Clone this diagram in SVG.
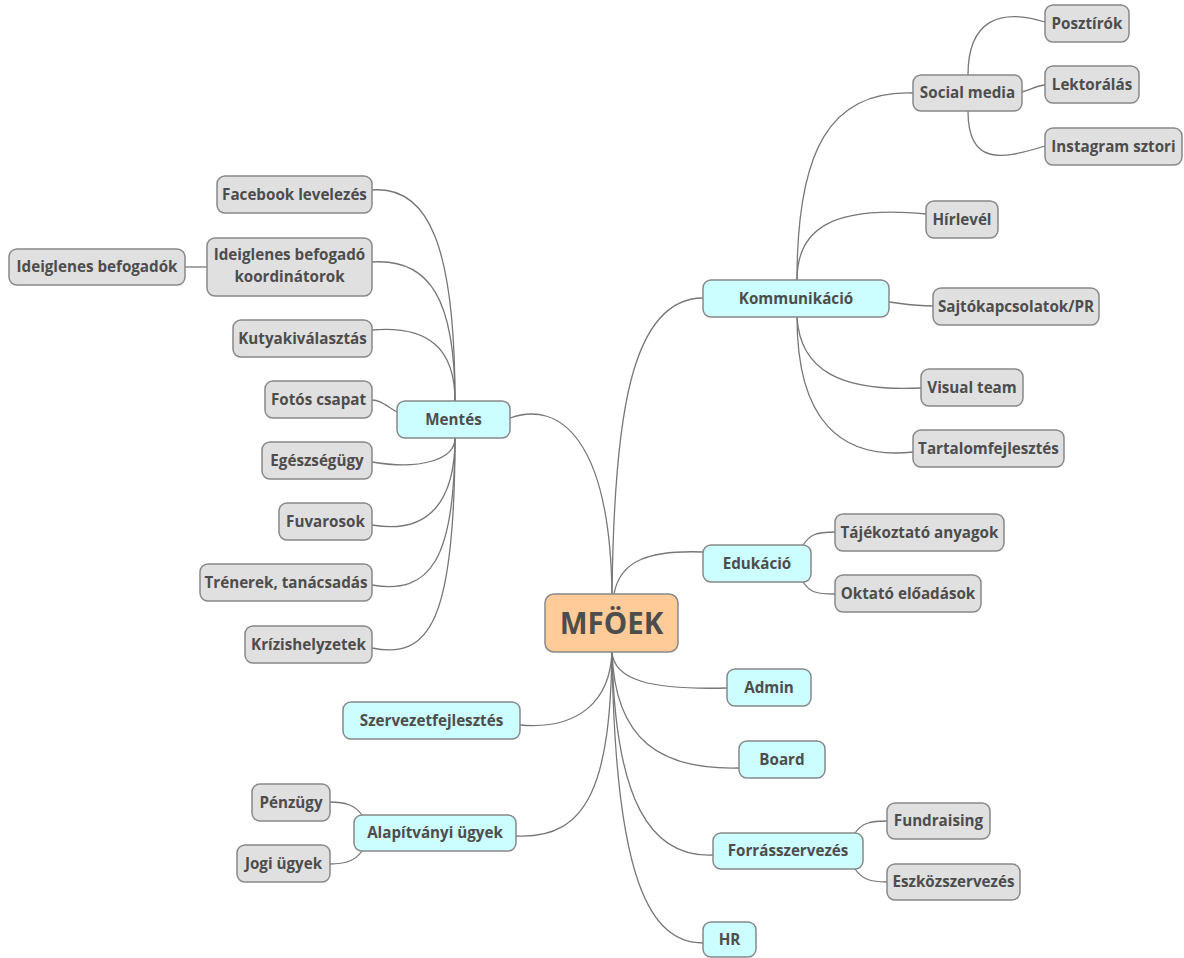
<svg xmlns="http://www.w3.org/2000/svg" width="1184" height="958" viewBox="0 0 1184 958">
<style>
.c{fill:none;stroke:#777;stroke-width:1.3}
.n rect{stroke:#888;stroke-width:1.5}
.l1 rect{fill:#ccfdff}
.l2 rect{fill:#e0e0e0}
.root rect{fill:#ffcc99}
text{font-family:"Open Sans","Noto Sans","DejaVu Sans",sans-serif;font-weight:bold;font-size:15.2px;fill:#4d4d4d;text-anchor:middle}
.root text{font-size:29.5px}
</style>
<rect width="1184" height="958" fill="#fff"/>
<g id="connectors">
<path class="c" d="M612,594 C614,420 630,298 703,298"/>
<path class="c" d="M510,418 C560,400 610,440 612,594"/>
<path class="c" d="M614,594 C620,560 650,550 703,552"/>
<path class="c" d="M612,652 C614,680 650,690 727,688"/>
<path class="c" d="M612,652 C615,740 660,770 739,768"/>
<path class="c" d="M612,652 C615,800 650,858 713,855"/>
<path class="c" d="M612,652 C615,880 650,943 703,943"/>
<path class="c" d="M612,652 C610,700 580,730 520,725"/>
<path class="c" d="M612,652 C610,780 590,840 516,836"/>
<path class="c" d="M797,280 C797,150 830,90 913,93"/>
<path class="c" d="M797,280 C797,230 830,205 926,214"/>
<path class="c" d="M889,302 C905,304 915,306 933,306"/>
<path class="c" d="M797,317 C800,370 840,392 921,388"/>
<path class="c" d="M797,317 C797,420 840,460 913,452"/>
<path class="c" d="M968,75 C968,20 1000,8 1045,22"/>
<path class="c" d="M1022,92 C1030,90 1035,86 1045,85"/>
<path class="c" d="M968,111 C968,165 1000,160 1045,146"/>
<path class="c" d="M455,401 C455,250 430,185 372,190"/>
<path class="c" d="M455,401 C455,300 430,258 372,262"/>
<path class="c" d="M455,401 C455,350 430,325 372,330"/>
<path class="c" d="M397,412 C385,405 380,400 372,400"/>
<path class="c" d="M455,438 C455,460 420,470 372,462"/>
<path class="c" d="M455,438 C455,500 430,535 372,525"/>
<path class="c" d="M455,438 C455,560 430,595 372,585"/>
<path class="c" d="M455,438 C455,620 430,660 372,648"/>
<path class="c" d="M185,267 L207,267"/>
<path class="c" d="M803,545 C810,535 815,532 835,532"/>
<path class="c" d="M803,582 C810,592 815,594 835,594"/>
<path class="c" d="M855,833 C862,823 870,821 887,821"/>
<path class="c" d="M855,869 C862,879 870,882 887,882"/>
<path class="c" d="M362,815 C355,805 345,802 330,802"/>
<path class="c" d="M362,851 C355,861 345,864 330,864"/>
</g>
<g id="mfoek" class="n root"><rect x="545" y="594" width="133" height="58" rx="9"/><text x="611.5" y="633.5">MFÖEK</text></g>
<g id="kommunikacio" class="n l1"><rect x="703" y="280" width="186" height="37" rx="8"/><text x="796" y="303.5">Kommunikáció</text></g>
<g id="mentes" class="n l1"><rect x="397" y="401" width="113" height="37" rx="8"/><text x="453.5" y="424.5">Mentés</text></g>
<g id="edukacio" class="n l1"><rect x="703" y="545" width="108" height="37" rx="8"/><text x="757" y="568.5">Edukáció</text></g>
<g id="admin" class="n l1"><rect x="727" y="669" width="84" height="37" rx="8"/><text x="769" y="692.5">Admin</text></g>
<g id="board" class="n l1"><rect x="739" y="741" width="86" height="37" rx="8"/><text x="782" y="764.5">Board</text></g>
<g id="forrasszervezes" class="n l1"><rect x="713" y="833" width="150" height="36" rx="8"/><text x="788" y="856">Forrásszervezés</text></g>
<g id="hr" class="n l1"><rect x="703" y="922" width="53" height="35" rx="8"/><text x="729.5" y="944.5">HR</text></g>
<g id="szervezetfejlesztes" class="n l1"><rect x="343" y="702" width="177" height="37" rx="8"/><text x="431.5" y="725.5">Szervezetfejlesztés</text></g>
<g id="alapitvanyi" class="n l1"><rect x="354" y="815" width="162" height="36" rx="8"/><text x="435" y="838">Alapítványi ügyek</text></g>
<g id="socialmedia" class="n l2"><rect x="913" y="75" width="109" height="36" rx="8"/><text x="967.5" y="98">Social media</text></g>
<g id="posztirok" class="n l2"><rect x="1045" y="5" width="84" height="37" rx="8"/><text x="1087" y="28.5">Posztírók</text></g>
<g id="lektoralas" class="n l2"><rect x="1045" y="66" width="94" height="37" rx="8"/><text x="1092" y="89.5">Lektorálás</text></g>
<g id="instagram" class="n l2"><rect x="1045" y="128" width="137" height="37" rx="8"/><text x="1113.5" y="151.5">Instagram sztori</text></g>
<g id="hirlevel" class="n l2"><rect x="926" y="201" width="72" height="37" rx="8"/><text x="962" y="224.5">Hírlevél</text></g>
<g id="sajto" class="n l2"><rect x="933" y="288" width="166" height="37" rx="8"/><text x="1016" y="311.5">Sajtókapcsolatok/PR</text></g>
<g id="visualteam" class="n l2"><rect x="921" y="369" width="102" height="37" rx="8"/><text x="972" y="392.5">Visual team</text></g>
<g id="tartalom" class="n l2"><rect x="913" y="430" width="151" height="37" rx="8"/><text x="988.5" y="453.5">Tartalomfejlesztés</text></g>
<g id="tajekoztato" class="n l2"><rect x="835" y="514" width="169" height="37" rx="8"/><text x="919.5" y="537.5">Tájékoztató anyagok</text></g>
<g id="oktato" class="n l2"><rect x="835" y="575" width="146" height="37" rx="8"/><text x="908" y="598.5">Oktató előadások</text></g>
<g id="fundraising" class="n l2"><rect x="887" y="803" width="103" height="36" rx="8"/><text x="938.5" y="826">Fundraising</text></g>
<g id="eszkoz" class="n l2"><rect x="887" y="864" width="133" height="36" rx="8"/><text x="953.5" y="887">Eszközszervezés</text></g>
<g id="penzugy" class="n l2"><rect x="252" y="784" width="78" height="37" rx="8"/><text x="291" y="807.5">Pénzügy</text></g>
<g id="jogi" class="n l2"><rect x="237" y="845" width="93" height="37" rx="8"/><text x="283.5" y="868.5">Jogi ügyek</text></g>
<g id="facebook" class="n l2"><rect x="217" y="176" width="155" height="37" rx="8"/><text x="294.5" y="199.5">Facebook levelezés</text></g>
<g id="koordinatorok" class="n l2"><rect x="207" y="238" width="165" height="58" rx="8"/><text x="289.5" y="260">Ideiglenes befogadó</text><text x="289.5" y="282">koordinátorok</text></g>
<g id="befogadok" class="n l2"><rect x="9" y="249" width="176" height="36" rx="8"/><text x="97" y="272">Ideiglenes befogadók</text></g>
<g id="kutya" class="n l2"><rect x="233" y="320" width="139" height="37" rx="8"/><text x="302.5" y="343.5">Kutyakiválasztás</text></g>
<g id="fotos" class="n l2"><rect x="265" y="381" width="107" height="37" rx="8"/><text x="318.5" y="404.5">Fotós csapat</text></g>
<g id="egeszseg" class="n l2"><rect x="262" y="442" width="110" height="37" rx="8"/><text x="317" y="465.5">Egészségügy</text></g>
<g id="fuvarosok" class="n l2"><rect x="279" y="503" width="93" height="37" rx="8"/><text x="325.5" y="526.5">Fuvarosok</text></g>
<g id="trenerek" class="n l2"><rect x="200" y="564" width="172" height="37" rx="8"/><text x="286" y="587.5">Trénerek, tanácsadás</text></g>
<g id="krizis" class="n l2"><rect x="245" y="626" width="127" height="37" rx="8"/><text x="308.5" y="649.5">Krízishelyzetek</text></g>
</svg>
